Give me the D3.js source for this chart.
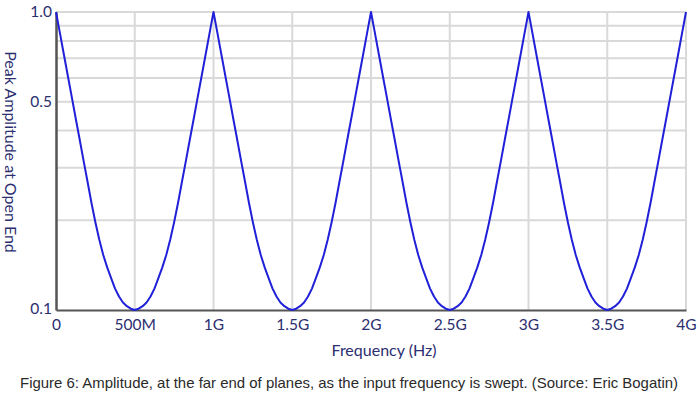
<!DOCTYPE html>
<html>
<head>
<meta charset="utf-8">
<script src="https://cdn.jsdelivr.net/npm/d3@7"></script>
<style>
  html, body { margin: 0; padding: 0; background: #fff; }
  svg { display: block; }
</style>
</head>
<body>
<svg id="chart" width="700" height="397"></svg>
<script>
// ---- Data ----
// Sample step in GHz for the amplitude readings below
const stepGHz = 0.025;
// Peak amplitude at the open end, one value every 25 MHz from 0 to 4 GHz
const amplitude = [
  1.000,0.849,0.720,0.611,0.519,0.440,0.374,0.317,0.270,0.229,0.197,0.172,0.153,0.139,0.128,0.118,0.111,0.106,0.103,0.101,
  0.100,0.101,0.103,0.106,0.111,0.118,0.128,0.139,0.153,0.172,0.197,0.229,0.270,0.317,0.374,0.440,0.519,0.611,0.720,0.849,
  1.000,0.849,0.720,0.611,0.519,0.440,0.374,0.317,0.270,0.229,0.197,0.172,0.153,0.139,0.128,0.118,0.111,0.106,0.103,0.101,
  0.100,0.101,0.103,0.106,0.111,0.118,0.128,0.139,0.153,0.172,0.197,0.229,0.270,0.317,0.374,0.440,0.519,0.611,0.720,0.849,
  1.000,0.849,0.720,0.611,0.519,0.440,0.374,0.317,0.270,0.229,0.197,0.172,0.153,0.139,0.128,0.118,0.111,0.106,0.103,0.101,
  0.100,0.101,0.103,0.106,0.111,0.118,0.128,0.139,0.153,0.172,0.197,0.229,0.270,0.317,0.374,0.440,0.519,0.611,0.720,0.849,
  1.000,0.849,0.720,0.611,0.519,0.440,0.374,0.317,0.270,0.229,0.197,0.172,0.153,0.139,0.128,0.118,0.111,0.106,0.103,0.101,
  0.100,0.101,0.103,0.106,0.111,0.118,0.128,0.139,0.153,0.172,0.197,0.229,0.270,0.317,0.374,0.440,0.519,0.611,0.720,0.849,
  1.000
];
const xTickValues = [0, 0.5, 1, 1.5, 2, 2.5, 3, 3.5, 4];
const xTickLabels = ["0", "500M", "1G", "1.5G", "2G", "2.5G", "3G", "3.5G", "4G"];
const yTickValues = [0.1, 0.5, 1.0];
const yTickLabels = ["0.1", "0.5", "1.0"];
const yGridValues = [0.2, 0.3, 0.4, 0.5, 0.6, 0.7, 0.8, 0.9, 1.0];
const xTitle = "Frequency (Hz)";
const yTitle = "Peak Amplitude at Open End";
const caption = "Figure 6: Amplitude, at the far end of planes, as the input frequency is swept. (Source: Eric Bogatin)";

// ---- Layout ----
const plotLeft = 56, plotRight = 686, plotTop = 12, plotBottom = 310;
const navy = "#2b2e6f";
const chartFont = "Lato, 'Open Sans', sans-serif";

const svg = d3.select("#chart");
const x = d3.scaleLinear().domain([0, 4]).range([plotLeft, plotRight]);
const y = d3.scaleLog().domain([0.1, 1.0]).range([plotBottom, plotTop]);

const points = amplitude.map((v, i) => ({ f: i * stepGHz, v }));

// gridlines
const grid = svg.append("g");
grid.selectAll("line.h").data(yGridValues).join("line")
  .attr("class", "h")
  .attr("x1", plotLeft).attr("x2", plotRight)
  .attr("y1", d => y(d)).attr("y2", d => y(d))
  .attr("stroke", "#d9d9d9").attr("stroke-width", 2);
grid.selectAll("line.v").data(xTickValues.slice(1)).join("line")
  .attr("class", "v")
  .attr("x1", d => x(d)).attr("x2", d => x(d))
  .attr("y1", plotTop).attr("y2", plotBottom)
  .attr("stroke", "#d9d9d9").attr("stroke-width", 2);

// axes
const xAxis = d3.axisBottom(x).tickValues(xTickValues)
  .tickFormat((d, i) => xTickLabels[i]).tickSize(0).tickPadding(9);
const gx = svg.append("g").attr("transform", `translate(0,${plotBottom})`).call(xAxis);
gx.select(".domain").attr("stroke", "#555").attr("stroke-width", 2);
gx.selectAll("text").attr("fill", navy).attr("font-size", 15.5).attr("font-family", chartFont);

const yAxis = d3.axisLeft(y).tickValues(yTickValues)
  .tickFormat((d, i) => yTickLabels[i]).tickSize(0).tickPadding(4);
const gy = svg.append("g").attr("transform", `translate(${plotLeft},0)`).call(yAxis);
gy.select(".domain").attr("stroke", "#555").attr("stroke-width", 2.5);
gy.selectAll("text").attr("fill", navy).attr("font-size", 15.5).attr("font-family", chartFont);
gy.selectAll(".tick").filter(d => d === 0.1).select("text").attr("dy", "0.2em");
gy.selectAll(".tick").filter(d => d === 1.0).select("text").attr("dy", "0.3em");

// curve
const line = d3.line().x(d => x(d.f)).y(d => y(d.v)).curve(d3.curveLinear);
svg.append("path").datum(points)
  .attr("d", line)
  .attr("fill", "none")
  .attr("stroke", "#2020d8")
  .attr("stroke-width", 2)
  .attr("stroke-linejoin", "round");

// titles
svg.append("text")
  .attr("x", 384).attr("y", 356)
  .attr("text-anchor", "middle")
  .attr("fill", navy).attr("font-size", 16).attr("font-family", chartFont)
  .text(xTitle);

svg.append("text")
  .attr("transform", "translate(5,152) rotate(90)")
  .attr("text-anchor", "middle")
  .attr("fill", navy).attr("font-size", 16).attr("font-family", chartFont)
  .text(yTitle);

svg.append("text")
  .attr("x", 20).attr("y", 388)
  .attr("textLength", 658).attr("lengthAdjust", "spacingAndGlyphs")
  .attr("fill", "#2a2a2a").attr("font-size", 14.8).attr("font-family", "'Liberation Sans', Arial, sans-serif")
  .text(caption);
</script>
</body>
</html>
